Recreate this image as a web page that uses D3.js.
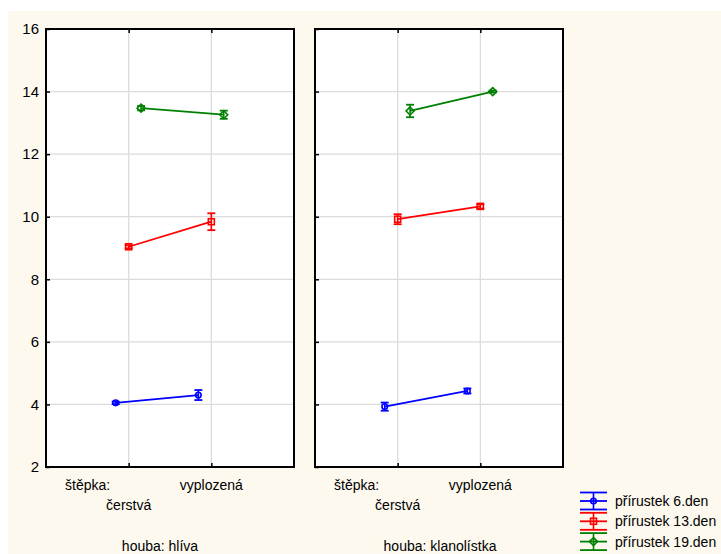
<!DOCTYPE html>
<html>
<head>
<meta charset="utf-8">
<script src="https://cdn.jsdelivr.net/npm/d3@7"></script>
<style>
  html, body { margin: 0; padding: 0; background: #ffffff; }
  svg { display: block; }
  text { font-family: "Liberation Sans", Arial, sans-serif; fill: #000; }
</style>
</head>
<body>
<script>
// Factor levels
const panels = ["houba: hlíva", "houba: klanolístka"];
const categories = ["čerstvá", "vyplozená"];
const factorLabel = "štěpka:";
const seriesNames = ["přírustek 6.den", "přírustek 13.den", "přírustek 19.den"];
const seriesColors = ["#0000ff", "#ff0000", "#008000"];
const seriesShapes = ["circle", "square", "diamond"];

// Means per panel [hlíva, klanolístka], each [čerstvá, vyplozená]
const means6 = [[4.05, 4.30], [3.93, 4.43]];
const means13 = [[9.04, 9.84], [9.92, 10.33]];
const means19 = [[13.47, 13.26], [13.38, 14.00]];
// Error half-widths
const err6 = [[0.04, 0.16], [0.13, 0.08]];
const err13 = [[0.05, 0.27], [0.16, 0.07]];
const err19 = [[0.07, 0.13], [0.20, 0.03]];

const yTicks = [2, 4, 6, 8, 10, 12, 14, 16];

const W = 721, H = 554;
const svg = d3.select("body").append("svg").attr("width", W).attr("height", H);

// cream plot area
svg.append("rect").attr("x", 8).attr("y", 11).attr("width", W - 8).attr("height", H - 11)
  .attr("fill", "#fdf9ef");

const plotTop = 29, plotBottom = 467;
const panelX = [[46, 294], [315, 563]];
const y = d3.scaleLinear().domain([2, 16]).range([plotBottom, plotTop]);

const means = [means6, means13, means19];
const errs = [err6, err13, err19];
const offsets = [-0.157, 0, 0.15];

function marker(g, shape, color, cx, cy) {
  if (shape === "circle") {
    g.append("circle").attr("cx", cx).attr("cy", cy).attr("r", 2.8)
      .attr("fill", "none").attr("stroke", color).attr("stroke-width", 1.6);
  } else if (shape === "square") {
    g.append("rect").attr("x", cx - 3).attr("y", cy - 3).attr("width", 6).attr("height", 6)
      .attr("fill", "none").attr("stroke", color).attr("stroke-width", 1.6);
  } else {
    const s = 4;
    g.append("path").attr("d", `M${cx},${cy - s}L${cx + s},${cy}L${cx},${cy + s}L${cx - s},${cy}Z`)
      .attr("fill", "none").attr("stroke", color).attr("stroke-width", 1.6);
  }
}

panels.forEach((pname, p) => {
  const [x0, x1] = panelX[p];
  const x = d3.scaleLinear().domain([0, 3]).range([x0, x1]);
  const g = svg.append("g");

  g.append("rect").attr("x", x0).attr("y", plotTop).attr("width", x1 - x0).attr("height", plotBottom - plotTop)
    .attr("fill", "#ffffff");

  // grid
  g.selectAll(".hg").data(yTicks.filter(t => t > 2 && t < 16)).enter().append("line")
    .attr("x1", x0).attr("x2", x1).attr("y1", d => y(d)).attr("y2", d => y(d))
    .attr("stroke", "#dcdcdc").attr("stroke-width", 1.3);
  g.selectAll(".vg").data([1, 2]).enter().append("line")
    .attr("x1", d => x(d)).attr("x2", d => x(d)).attr("y1", plotTop).attr("y2", plotBottom)
    .attr("stroke", "#dcdcdc").attr("stroke-width", 1.3);

  // y axis
  const ya = g.append("g").attr("transform", `translate(${x0},0)`)
    .call(d3.axisLeft(y).tickValues(yTicks).tickSize(-4).tickPadding(7));
  ya.select(".domain").remove();
  ya.selectAll("line").attr("stroke", "#000").attr("stroke-width", 1.5);
  ya.selectAll("text").style("font-size", "15px")
    .style("font-family", "'Liberation Sans', Arial, sans-serif");
  if (p === 1) ya.selectAll("text").remove();

  // x ticks bottom/top
  const xb = g.append("g").attr("transform", `translate(0,${plotBottom})`)
    .call(d3.axisBottom(x).tickValues([1, 2]).tickSize(-4).tickFormat(""));
  xb.select(".domain").remove();
  xb.selectAll("line").attr("stroke", "#000").attr("stroke-width", 1.5);
  const xt = g.append("g").attr("transform", `translate(0,${plotTop})`)
    .call(d3.axisTop(x).tickValues([1, 2]).tickSize(-4).tickFormat(""));
  xt.select(".domain").remove();
  xt.selectAll("line").attr("stroke", "#000").attr("stroke-width", 1.5);

  // frame
  g.append("rect").attr("x", x0).attr("y", plotTop).attr("width", x1 - x0).attr("height", plotBottom - plotTop)
    .attr("fill", "none").attr("stroke", "#000").attr("stroke-width", 2);

  // series
  means.forEach((m, s) => {
    const color = seriesColors[s];
    const pts = m[p].map((v, c) => [x(c + 1 + offsets[s]), y(v), errs[s][p][c], v]);
    g.append("path").attr("d", d3.line()(pts.map(d => [d[0], d[1]])))
      .attr("fill", "none").attr("stroke", color).attr("stroke-width", 1.8);
    pts.forEach(d => {
      const [cx, cy, e, v] = d;
      const yt = y(v + e), yb = y(v - e);
      g.append("line").attr("x1", cx).attr("x2", cx).attr("y1", yt).attr("y2", yb)
        .attr("stroke", color).attr("stroke-width", 1.6);
      [yt, yb].forEach(yy => g.append("line").attr("x1", cx - 4).attr("x2", cx + 4)
        .attr("y1", yy).attr("y2", yy).attr("stroke", color).attr("stroke-width", 1.8));
      marker(g, seriesShapes[s], color, cx, cy);
    });
  });

  // category labels
  g.append("text").attr("x", x(1) - 41).attr("y", 490).attr("text-anchor", "middle")
    .style("font-size", "14px").text(factorLabel);
  g.append("text").attr("x", x(1)).attr("y", 510).attr("text-anchor", "middle")
    .style("font-size", "14px").text(categories[0]);
  g.append("text").attr("x", x(2)).attr("y", 490).attr("text-anchor", "middle")
    .style("font-size", "14px").text(categories[1]);
  g.append("text").attr("x", p === 0 ? 160 : 440).attr("y", 551).attr("text-anchor", "middle")
    .style("font-size", "14px").text(pname);
});

// legend
const lg = svg.append("g");
seriesNames.forEach((name, i) => {
  const cy = 501 + i * 20.3;
  const color = seriesColors[i];
  const lx0 = 580, lx1 = 607, cx = (lx0 + lx1) / 2;
  [cy - 8.5, cy, cy + 8.5].forEach(yy => lg.append("line").attr("x1", lx0).attr("x2", lx1)
    .attr("y1", yy).attr("y2", yy).attr("stroke", color).attr("stroke-width", 1.8));
  lg.append("line").attr("x1", cx).attr("x2", cx).attr("y1", cy - 8.5).attr("y2", cy + 8.5)
    .attr("stroke", color).attr("stroke-width", 1.6);
  marker(lg, seriesShapes[i], color, cx, cy);
  lg.append("text").attr("x", 615).attr("y", cy + 5).style("font-size", "14px").text(name);
});
</script>
</body>
</html>
